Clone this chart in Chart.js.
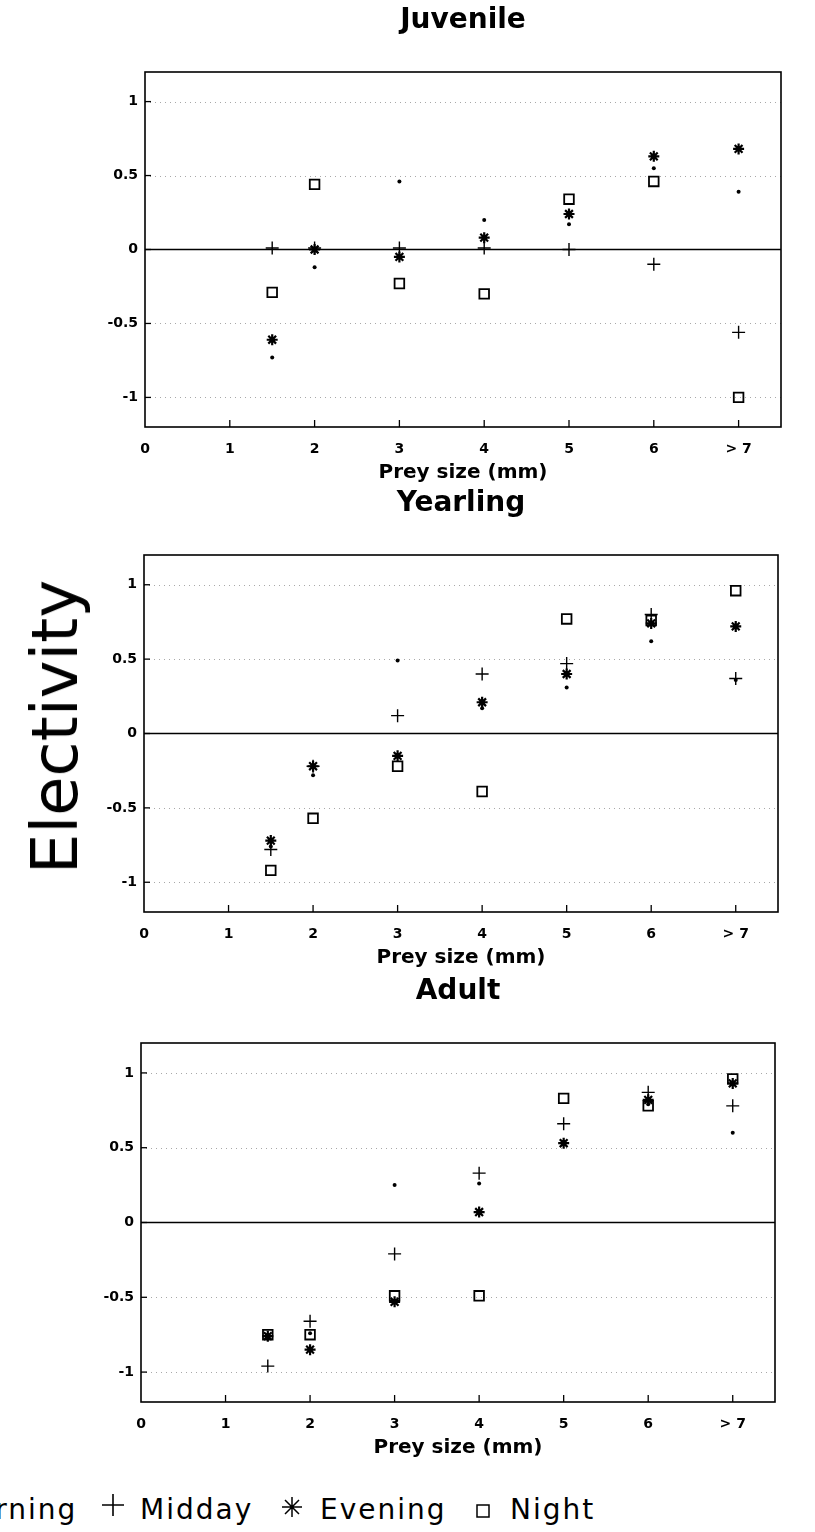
<!DOCTYPE html>
<html>
<head>
<meta charset="utf-8">
<script src="https://cdn.jsdelivr.net/npm/chart.js@4/dist/chart.umd.min.js"></script>
<style>
  html, body { margin: 0; padding: 0; background: #fff; }
  body { width: 815px; height: 1532px; position: relative; overflow: hidden; font-family: "DejaVu Sans", sans-serif; }
  canvas { position: absolute; left: 0; }
  .ylab { position: absolute; left: 55px; top: 727px; transform: translate(-50%, -50%) rotate(-90deg);
          font: 64px "DejaVu Sans"; line-height: 1; white-space: nowrap; color: #000; }
  .lg { position: absolute; top: 1496px; font: 28px "DejaVu Sans"; line-height: 28px; letter-spacing: 2px; white-space: nowrap; color: #000; }
  svg.mk { position: absolute; overflow: visible; }
</style>
</head>
<body>
<canvas id="c1" width="815" height="485" style="top:0px"></canvas>
<canvas id="c2" width="815" height="487" style="top:483px"></canvas>
<canvas id="c3" width="815" height="489" style="top:971px"></canvas>
<div class="ylab">Electivity</div>

<!-- legend -->
<svg class="mk" style="left:-80px;top:1510px" width="6" height="6"><circle cx="3" cy="3" r="2.2" fill="#000"/></svg>
<div class="lg" style="left:-50px">Morning</div>
<svg class="mk" style="left:102px;top:1494px" width="22" height="22"><path d="M11 0 V22 M0 11 H22" stroke="#000" stroke-width="1.6" fill="none"/></svg>
<div class="lg" style="left:140px">Midday</div>
<svg class="mk" style="left:282px;top:1497px" width="20" height="20"><path d="M10 0 V20 M0 10 H20 M3 3 L17 17 M17 3 L3 17" stroke="#000" stroke-width="1.5" fill="none"/></svg>
<div class="lg" style="left:320px">Evening</div>
<svg class="mk" style="left:476px;top:1504px" width="14" height="14"><rect x="1" y="1" width="12" height="12" stroke="#000" stroke-width="1.5" fill="none"/></svg>
<div class="lg" style="left:510px">Night</div>

<script>
// ---------- data ----------
const preySizes = [1.5, 2, 3, 4, 5, 6, 7];
const xTickValues = [0, 1, 2, 3, 4, 5, 6, 7];
const xTickLabels = ['0', '1', '2', '3', '4', '5', '6', '> 7'];
const yTickValues = [-1, -0.5, 0, 0.5, 1];
const seriesNames = ['Morning', 'Midday', 'Evening', 'Night'];

const juvenileMorning = [-0.73, -0.12, 0.46, 0.20, 0.17, 0.55, 0.39];
const juvenileMidday  = [0.01, 0.01, 0.01, 0.01, 0.00, -0.10, -0.56];
const juvenileEvening = [-0.61, 0.00, -0.05, 0.08, 0.24, 0.63, 0.68];
const juvenileNight   = [-0.29, 0.44, -0.23, -0.30, 0.34, 0.46, -1.00];

const yearlingMorning = [-0.76, -0.28, 0.49, 0.17, 0.31, 0.62, 0.36];
const yearlingMidday  = [-0.78, -0.22, 0.12, 0.40, 0.47, 0.80, 0.37];
const yearlingEvening = [-0.72, -0.22, -0.15, 0.21, 0.40, 0.74, 0.72];
const yearlingNight   = [-0.92, -0.57, -0.22, -0.39, 0.77, 0.76, 0.96];

const adultMorning = [-0.75, -0.74, 0.25, 0.26, 0.54, 0.79, 0.60];
const adultMidday  = [-0.96, -0.66, -0.21, 0.33, 0.66, 0.87, 0.78];
const adultEvening = [-0.76, -0.85, -0.53, 0.07, 0.53, 0.82, 0.93];
const adultNight   = [-0.75, -0.75, -0.49, -0.49, 0.83, 0.78, 0.96];

// ---------- styling ----------
const markerStyles = [
  { pointStyle: 'circle', pointRadius: 2, pointBorderWidth: 0, backgroundColor: '#000', borderColor: '#000' },
  { pointStyle: 'cross', pointRadius: 6.5, pointBorderWidth: 1.4, backgroundColor: 'transparent', borderColor: '#000' },
  { pointStyle: 'star', pointRadius: 5.5, pointBorderWidth: 2.2, backgroundColor: 'transparent', borderColor: '#000' },
  { pointStyle: 'rect', pointRadius: 6.8, pointBorderWidth: 1.8, backgroundColor: 'transparent', borderColor: '#000' }
];

const framePlugin = {
  id: 'frame',
  beforeDatasetsDraw(chart) {
    const { ctx, chartArea: a, scales: { x, y } } = chart;
    ctx.save();
    ctx.strokeStyle = '#a8a8a8';
    ctx.lineWidth = 1;
    ctx.setLineDash([1, 4]);
    yTickValues.forEach(v => {
      if (v === 0) return;
      const py = Math.round(y.getPixelForValue(v)) + 0.5;
      ctx.beginPath(); ctx.moveTo(a.left, py); ctx.lineTo(a.right, py); ctx.stroke();
    });
    ctx.setLineDash([]);
    ctx.strokeStyle = '#000';
    ctx.lineWidth = 1.7;
    const pz = y.getPixelForValue(0);
    ctx.beginPath(); ctx.moveTo(a.left, pz); ctx.lineTo(a.right, pz); ctx.stroke();
    ctx.lineWidth = 1.6;
    ctx.strokeRect(a.left, a.top, a.right - a.left, a.bottom - a.top);
    ctx.lineWidth = 1.3;
    yTickValues.forEach(v => {
      const py = y.getPixelForValue(v);
      ctx.beginPath(); ctx.moveTo(a.left, py); ctx.lineTo(a.left + 6, py); ctx.stroke();
    });
    xTickValues.forEach(v => {
      if (v === 0) return;
      const px = x.getPixelForValue(v);
      ctx.beginPath(); ctx.moveTo(px, a.bottom); ctx.lineTo(px, a.bottom - 7); ctx.stroke();
    });
    ctx.restore();
  }
};

function makePanel(id, title, series, leftW, rightPad) {
  const datasets = series.map((vals, i) => Object.assign({
    label: seriesNames[i],
    data: preySizes.map((xv, k) => ({ x: xv, y: vals[k] })),
    showLine: false
  }, markerStyles[i]));
  return new Chart(document.getElementById(id), {
    type: 'scatter',
    data: { datasets },
    plugins: [framePlugin],
    options: {
      responsive: false,
      devicePixelRatio: 1,
      animation: false,
      events: [],
      layout: { padding: { left: 0, right: rightPad, top: 0, bottom: 0 } },
      plugins: {
        legend: { display: false },
        tooltip: { enabled: false },
        title: {
          display: true, text: title, fullSize: false, color: '#000',
          font: { family: 'DejaVu Sans', size: 28, weight: 'bold' },
          padding: { top: 4, bottom: 34.4 }
        }
      },
      scales: {
        x: {
          type: 'linear', min: 0, max: 7.5,
          afterBuildTicks: s => { s.ticks = xTickValues.map(v => ({ value: v })); },
          afterFit: s => { s.height = 58; },
          grid: { display: false, drawTicks: false },
          border: { display: false },
          ticks: {
            color: '#000', padding: 14, maxRotation: 0, autoSkip: false,
            font: { family: 'DejaVu Sans', size: 14, weight: 'bold' },
            callback: v => xTickLabels[xTickValues.indexOf(v)]
          },
          title: {
            display: true, text: 'Prey size (mm)', color: '#000',
            font: { family: 'DejaVu Sans', size: 20, weight: 'bold' },
            padding: { top: 0, bottom: 0 }
          }
        },
        y: {
          type: 'linear', min: -1.2, max: 1.2,
          afterBuildTicks: s => { s.ticks = yTickValues.map(v => ({ value: v })); },
          afterFit: s => { s.width = leftW; },
          grid: { display: false, drawTicks: false },
          border: { display: false },
          ticks: {
            color: '#000', padding: 7,
            font: { family: 'DejaVu Sans', size: 14, weight: 'bold' },
            callback: v => String(v)
          }
        }
      }
    }
  });
}

makePanel('c1', 'Juvenile', [juvenileMorning, juvenileMidday, juvenileEvening, juvenileNight], 145, 34);
makePanel('c2', 'Yearling', [yearlingMorning, yearlingMidday, yearlingEvening, yearlingNight], 144, 37);
makePanel('c3', 'Adult', [adultMorning, adultMidday, adultEvening, adultNight], 141, 40);
</script>
</body>
</html>
